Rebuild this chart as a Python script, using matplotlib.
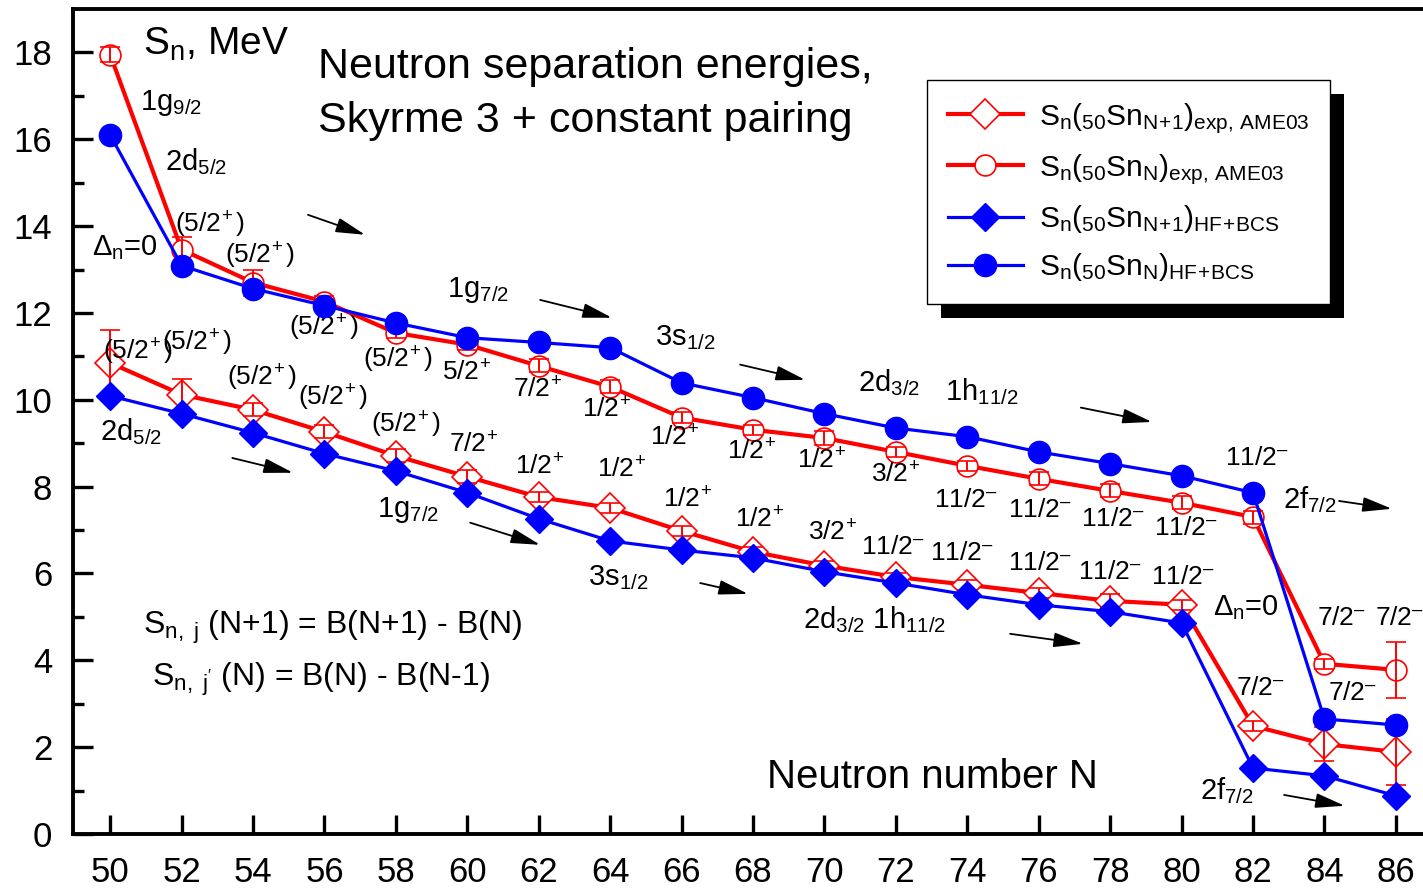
import matplotlib
matplotlib.use("Agg")
import matplotlib.pyplot as plt
from matplotlib.patches import Rectangle

# -----------------------------
# Fonts
# -----------------------------
plt.rcParams['font.family'] = ['Liberation Sans', 'DejaVu Sans']
plt.rcParams['mathtext.fontset'] = 'custom'
plt.rcParams['mathtext.rm'] = 'Liberation Sans'
plt.rcParams['mathtext.it'] = 'Liberation Sans:italic'
plt.rcParams['mathtext.bf'] = 'Liberation Sans:bold'
plt.rcParams['mathtext.default'] = 'regular'

# -----------------------------
# Data
# -----------------------------
n_vals = [50, 52, 54, 56, 58, 60, 62, 64, 66, 68, 70, 72, 74, 76, 78, 80, 82, 84, 86]

# S_n(Sn N+1), experiment (AME03)
sn_n1_exp = [10.85, 10.12, 9.77, 9.26, 8.71, 8.23, 7.76, 7.51, 6.98, 6.50,
             6.18, 5.92, 5.74, 5.55, 5.37, 5.28, 2.49, 2.07, 1.89]
sn_n1_err = [0.76, 0.35, 0.15, 0.15, 0.15, 0.15, 0.12, 0.12, 0.12, 0.12,
             0.10, 0.10, 0.12, 0.12, 0.15, 0.12, 0.12, 0.40, 0.76]

# S_n(Sn N), experiment (AME03)
sn_n_exp = [17.95, 13.46, 12.70, 12.26, 11.54, 11.27, 10.78, 10.30, 9.59, 9.31,
            9.12, 8.80, 8.48, 8.18, 7.90, 7.63, 7.30, 3.92, 3.78]
sn_n_err = [0.18, 0.30, 0.30, 0.12, 0.12, 0.12, 0.15, 0.15, 0.12, 0.12,
            0.15, 0.12, 0.12, 0.15, 0.15, 0.15, 0.15, 0.12, 0.64]

# S_n(Sn N+1), HF+BCS
sn_n1_hf = [10.09, 9.68, 9.24, 8.76, 8.36, 7.86, 7.26, 6.75, 6.54, 6.36,
            6.04, 5.78, 5.51, 5.28, 5.12, 4.86, 1.52, 1.34, 0.88]

# S_n(Sn N), HF+BCS
sn_n_hf = [16.10, 13.09, 12.56, 12.17, 11.77, 11.43, 11.32, 11.20, 10.39, 10.05,
           9.68, 9.35, 9.15, 8.80, 8.53, 8.25, 7.86, 2.65, 2.51]

legend_labels = [r"S$_n$($_{50}$Sn$_{N\!+\!1}$)$_{exp,\,AME03}$",
                 r"S$_n$($_{50}$Sn$_N$)$_{exp,\,AME03}$",
                 r"S$_n$($_{50}$Sn$_{N\!+\!1}$)$_{HF\!+\!BCS}$",
                 r"S$_n$($_{50}$Sn$_N$)$_{HF\!+\!BCS}$"]

P52 = r"(5/$2^{\!+}$)"
M112 = "11/$2^{\u2013}$"
M72 = "7/$2^{\u2013}$"
# spin-parity labels: (text, N, S_n)
jpi_labels = [
    (P52, 52.80, 14.03), (P52, 54.20, 13.32),
    (P52, 55.99, 11.66), (P52, 58.06, 10.92),
    (r"5/$2^{\!+}$", 59.97, 10.62), (r"7/$2^{\!+}$", 61.98, 10.23),
    (r"1/$2^{\!+}$", 63.89, 9.77), (r"1/$2^{\!+}$", 65.82, 9.12),
    (r"1/$2^{\!+}$", 67.97, 8.80), (r"1/$2^{\!+}$", 69.93, 8.59),
    (r"3/$2^{\!+}$", 72.00, 8.27),
    (M112, 73.96, 7.70), (M112, 76.04, 7.47),
    (M112, 78.08, 7.26), (M112, 80.12, 7.05),
    (M112, 82.11, 8.66),
    (M72, 84.49, 4.98), (M72, 86.11, 4.98),
    (M72, 84.80, 3.25),
    (P52, 50.78, 11.11), (P52, 52.42, 11.31),
    (P52, 54.26, 10.51), (P52, 56.24, 10.05),
    (P52, 58.29, 9.42), (r"7/$2^{\!+}$", 60.19, 8.96),
    (r"1/$2^{\!+}$", 62.04, 8.46), (r"1/$2^{\!+}$", 64.33, 8.39),
    (r"1/$2^{\!+}$", 66.18, 7.70), (r"1/$2^{\!+}$", 68.20, 7.24),
    (r"3/$2^{\!+}$", 70.24, 6.94),
    (M112, 71.92, 6.61), (M112, 73.85, 6.47),
    (M112, 76.04, 6.24), (M112, 78.00, 6.04),
    (M112, 80.04, 5.92),
    (M72, 82.20, 3.36),
]

# shell labels: (text, N, S_n), left aligned
shell_labels = [
    (r"1g$_{9/2}$", 50.84, 16.84), (r"2d$_{5/2}$", 51.54, 15.48),
    (r"$\Delta_n$=0", 49.50, 13.50), (r"1g$_{7/2}$", 59.43, 12.53),
    (r"3s$_{1/2}$", 65.26, 11.43), (r"2d$_{3/2}$", 70.94, 10.39),
    (r"1h$_{11/2}$", 73.38, 10.18), (r"2f$_{7/2}$", 82.84, 7.70),
    (r"2d$_{5/2}$", 49.72, 9.26), (r"1g$_{7/2}$", 57.47, 7.47),
    (r"3s$_{1/2}$", 63.38, 5.90), (r"2d$_{3/2}$ 1h$_{11/2}$", 69.40, 4.93),
    (r"$\Delta_n$=0", 80.88, 5.21), (r"2f$_{7/2}$", 80.52, 1.01),
]

# arrows: (N start, S start, N end, S end)
arrows = [
    (55.54, 14.26, 57.14, 13.80), (62.04, 12.30, 64.05, 11.89),
    (67.64, 10.81, 69.46, 10.46), (77.18, 9.82, 79.17, 9.49),
    (84.41, 7.67, 85.89, 7.49),
    (53.42, 8.66, 55.12, 8.32), (60.08, 7.17, 62.04, 6.66),
    (66.52, 5.78, 67.86, 5.53), (75.20, 4.61, 77.24, 4.38),
    (82.87, 0.90, 84.57, 0.65),
]

# -----------------------------
# Figure
# -----------------------------
fig = plt.figure(figsize=(14.23, 8.89), dpi=100)
ax = fig.add_axes([73 / 1423, 55 / 889, 1350 / 1423, 825 / 889])

red_kw = dict(color='red', lw=3.0, markersize=15, markerfacecolor='white',
              markeredgecolor='red', markeredgewidth=1.2, ecolor='red',
              elinewidth=1.4, capsize=7, capthick=1.4, barsabove=True)
h1 = ax.errorbar(n_vals, sn_n1_exp, yerr=sn_n1_err, marker='D', zorder=3, **red_kw)
h2 = ax.errorbar(n_vals, sn_n_exp, yerr=sn_n_err, marker='o', zorder=3, **red_kw)
h3, = ax.plot(n_vals, sn_n1_hf, color='blue', lw=2.3, marker='D', markersize=14, zorder=4)
h4, = ax.plot(n_vals, sn_n_hf, color='blue', lw=2.3, marker='o', markersize=16, zorder=4)

# annotations
for txt, x, y in jpi_labels:
    ax.text(x, y, txt, fontsize=19, ha='center', va='center')
for txt, x, y in shell_labels:
    ax.text(x, y, txt, fontsize=21, ha='left', va='center')
for x0, y0, x1, y1 in arrows:
    ax.annotate('', xy=(x1, y1), xytext=(x0, y0),
                arrowprops=dict(arrowstyle='-|>,head_length=1.8,head_width=0.45',
                                color='black', lw=1.3, mutation_scale=10,
                                shrinkA=0, shrinkB=0))

ax.text(50.92, 18.18, r"S$_n$, MeV", fontsize=28, ha='left', va='center')
ax.text(55.82, 17.67, "Neutron separation energies,", fontsize=31, ha='left', va='center')
ax.text(55.82, 16.43, "Skyrme 3 + constant pairing", fontsize=31, ha='left', va='center')
ax.text(68.39, 1.31, "Neutron number N", fontsize=29, ha='left', va='center')
ax.text(50.92, 4.75, r"S$_{n,\ j}$ (N+1) = B(N+1) - B(N)", fontsize=23, ha='left', va='center')
ax.text(51.18, 3.55, r"S$_{n,\ j'}$ (N) = B(N) - B(N-1)", fontsize=23, ha='left', va='center')

# axes styling
ax.set_xlim(48.96, 86.76)
ax.set_ylim(0, 19.0)
ax.set_xticks(range(50, 87, 2))
ax.set_yticks(range(0, 19, 2))
ax.set_yticks(range(1, 19, 2), minor=True)
ax.spines['right'].set_visible(False)
for s in ['left', 'bottom', 'top']:
    ax.spines[s].set_linewidth(2.8)
ax.tick_params(axis='both', which='major', direction='in', labelsize=25, width=2.4)
ax.tick_params(axis='y', which='major', length=14.5, pad=15)
ax.tick_params(axis='x', which='major', length=13.5, pad=16)
ax.tick_params(axis='y', which='minor', direction='in', length=8, width=2.4)

# legend with a solid black drop shadow
leg = ax.legend([h1[0], h2[0], h3, h4], legend_labels, loc='upper left',
                bbox_to_anchor=(0.6326, 0.9139), fontsize=21.5, frameon=True,
                fancybox=False, framealpha=1, edgecolor='black',
                borderpad=0.7, handlelength=2.5, handletextpad=0.55,
                labelspacing=0.55, borderaxespad=0)
leg.get_frame().set_linewidth(1.0)
leg.set_zorder(6)

fig.canvas.draw()
bb = leg.get_window_extent().transformed(ax.transAxes.inverted())
dx = 14 / 1350
dy = 14 / 825
shadow = Rectangle((bb.x0 + dx, bb.y0 - dy), bb.width, bb.height,
                   transform=ax.transAxes, facecolor='black', edgecolor='none',
                   zorder=5.5, clip_on=False)
ax.add_patch(shadow)

fig.savefig("out.png", dpi=100)
